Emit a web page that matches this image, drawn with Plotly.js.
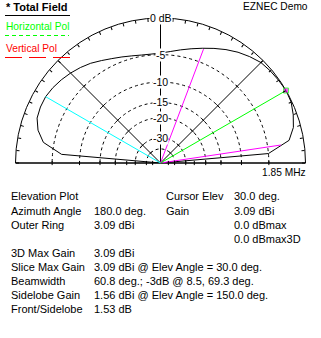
<!DOCTYPE html>
<html>
<head>
<meta charset="utf-8">
<script src="https://cdn.plot.ly/plotly-3.0.1.min.js"></script>
<style>
html,body{margin:0;padding:0;background:#fff;}
#chart{width:321px;height:338px;}
</style>
</head>
<body>
<div id="chart"></div>
<script>
// ---------- data ----------
const elevAngles = [0,5,10,15,20,25,30,35,40,45,50,55,60,65,70,75,80,85,90,
                    95,100,105,110,115,120,125,130,135,140,145,150,155,160,165,170,175,180];
// field relative to outer ring (dBmax); null = no signal (ground)
const patternDb = [null,-5.0,-1.8,-0.9,-0.45,-0.1,0,-0.1,-0.2,-0.35,-0.75,-1.2,-1.75,-2.35,-2.95,-3.5,-4.0,-4.45,-4.75,
                   -4.85,-4.8,-4.6,-4.3,-3.95,-3.5,-3.0,-2.6,-2.25,-1.95,-1.7,-1.53,-1.55,-1.7,-2.3,-3.4,-6.5,null];
const outerRingDbi = 3.09;
const cursorElev = 30.0;
const cursorGainDbi = 3.09;
const beamAngles = [8.5, 69.3];
const beamDb = -3;
const sidelobeElev = 150.0;
const sidelobeGainDbi = 1.56;

const ringDb = [-5,-10,-15,-20,-30,-40];
const ringLabelDb = [0,-5,-10,-15,-20,-30];
const ringLabelText = ['0 dB','-5','-10','-15','-20','-30'];
const baseTickDb = [-5,-10,-15,-20,-25,-30,-40,-50];
const spokeAngles = [0,45,90,135,180];
const outerTickAngles = [];
for (let a = 0; a <= 180; a += 5) outerTickAngles.push(a);

const infoLeft = [
  ['Elevation Plot',''],
  ['Azimuth Angle','180.0 deg.'],
  ['Outer Ring','3.09 dBi'],
  ['',''],
  ['3D Max Gain','3.09 dBi'],
  ['Slice Max Gain','3.09 dBi @ Elev Angle = 30.0 deg.'],
  ['Beamwidth','60.8 deg.; -3dB @ 8.5, 69.3 deg.'],
  ['Sidelobe Gain','1.56 dBi @ Elev Angle = 150.0 deg.'],
  ['Front/Sidelobe','1.53 dB']
];
const infoRight = [
  ['Cursor Elev','30.0 deg.'],
  ['Gain','3.09 dBi'],
  ['','0.0 dBmax'],
  ['','0.0 dBmax3D']
];
const rowY = [196,210.5,224.5,238.5,253,267,281,295,309];

// ---------- ARRL log-periodic radial scale ----------
function scaleR(db){ return (db === null || db < -90) ? 0 : Math.pow(0.89, -db/2); }

const FONT = 'Liberation Sans, Arial, sans-serif';
const W = 321, H = 338;
const px = x => x / W;
const py = y => 1 - y / H;
// polar plot geometry (paper pixels)
const CX = 160.5, CY = 163, RAD = 145;

const traces = [];

// ticks across the 45 / 135 spokes
traces.push({
  type:'scatterpolar', subplot:'polar', mode:'markers',
  theta: ringDb.map(()=>45).concat(ringDb.map(()=>135)),
  r: ringDb.map(scaleR).concat(ringDb.map(scaleR)),
  marker:{symbol: ringDb.map(()=>'line-nw').concat(ringDb.map(()=>'line-ne')),
          size:3, line:{color:'#000', width:1}},
  hoverinfo:'skip', showlegend:false
});

// pattern
traces.push({
  type:'scatterpolar', subplot:'polar', mode:'lines',
  theta: elevAngles, r: patternDb.map(scaleR),
  line:{color:'#000', width:1}, hoverinfo:'skip', showlegend:false
});

// beamwidth markers
beamAngles.forEach(a => traces.push({
  type:'scatterpolar', subplot:'polar', mode:'lines',
  theta:[a,a], r:[0, scaleR(beamDb)],
  line:{color:'#ff00ff', width:1}, hoverinfo:'skip', showlegend:false
}));

// sidelobe
traces.push({
  type:'scatterpolar', subplot:'polar', mode:'lines',
  theta:[sidelobeElev, sidelobeElev], r:[0, scaleR(sidelobeGainDbi - outerRingDbi)],
  line:{color:'#00ffff', width:1}, hoverinfo:'skip', showlegend:false
});

// cursor
traces.push({
  type:'scatterpolar', subplot:'polar', mode:'lines+markers',
  theta:[cursorElev, cursorElev], r:[0, scaleR(cursorGainDbi - outerRingDbi)],
  line:{color:'#00ff00', width:1},
  marker:{symbol:'square', size:[0,5], color:'#ff00ff', line:{color:'#00ff00', width:1}},
  cliponaxis:false, hoverinfo:'skip', showlegend:false
});

// baseline ticks (both sides)
traces.push({
  type:'scatterpolar', subplot:'polar2', mode:'markers',
  theta: baseTickDb.map(()=>0).concat(baseTickDb.map(()=>180)),
  r: baseTickDb.map(scaleR).concat(baseTickDb.map(scaleR)),
  marker:{symbol:'line-ns', size:3, line:{color:'#000', width:1}},
  cliponaxis:false, hoverinfo:'skip', showlegend:false
});

const domain = {x:[px(CX-RAD), px(CX+RAD)], y:[py(CY), py(CY-RAD)]};

const annotations = [];
function txt(x, y, s, opts){
  annotations.push(Object.assign({
    xref:'paper', yref:'paper', x:px(x), y:py(y), text:s, showarrow:false,
    xanchor:'left', yanchor:'middle',
    font:{family:FONT, size:11, color:'#000'}
  }, opts||{}));
}
// ring labels along the vertical spoke, on a white backing
ringLabelDb.forEach((db,i)=>{
  txt(CX, CY - RAD*scaleR(db), ringLabelText[i], {
    xanchor:'center', bgcolor:'#fff', borderpad:0,
    font:{family:FONT, size:10.5, color:'#000'}
  });
});
txt(4, 7, '<b>* Total Field</b>', {font:{family:FONT, size:11, color:'#000'}});
txt(4, 27, 'Horizontal Pol', {font:{family:FONT, size:10.2, color:'#00ff00'}});
txt(4, 48, 'Vertical Pol', {font:{family:FONT, size:10.2, color:'#ff0000'}});
txt(310, 7, 'EZNEC Demo', {xanchor:'right', font:{family:FONT, size:10.2, color:'#000'}});
txt(308, 172, '1.85 MHz', {xanchor:'right', font:{family:FONT, size:10.2, color:'#000'}});
infoLeft.forEach((row,i)=>{
  if (row[0]) txt(9, rowY[i], row[0]);
  if (row[1]) txt(92, rowY[i], row[1]);
});
infoRight.forEach((row,i)=>{
  if (row[0]) txt(164, rowY[i], row[0]);
  if (row[1]) txt(232, rowY[i], row[1]);
});

const shapes = [
  {type:'line', xref:'paper', yref:'paper', x0:px(5), x1:px(70), y0:py(15.5), y1:py(15.5),
   line:{color:'#000', width:1}},
  {type:'line', xref:'paper', yref:'paper', x0:px(5), x1:px(69), y0:py(35.5), y1:py(35.5),
   line:{color:'#00ff00', width:1, dash:'4px,3px'}},
  {type:'line', xref:'paper', yref:'paper', x0:px(5), x1:px(70), y0:py(57.5), y1:py(57.5),
   line:{color:'#ff0000', width:1, dash:'17px,7px'}}
];

const layout = {
  width:W, height:H, margin:{l:0,r:0,t:0,b:0},
  paper_bgcolor:'#fff', showlegend:false,
  polar:{
    domain: domain, sector:[0,180], bgcolor:'#fff', hole:0,
    angularaxis:{rotation:0, direction:'counterclockwise', tickmode:'array', tickvals:spokeAngles,
      showticklabels:false, ticks:'', showgrid:true, gridcolor:'#000', gridwidth:1,
      showline:true, linecolor:'#000', linewidth:1, layer:'below traces'},
    radialaxis:{range:[0,1], tickmode:'array', tickvals: ringDb.map(scaleR), showticklabels:false,
      ticks:'', showline:false, showgrid:true, gridcolor:'#000', gridwidth:1, griddash:'3px,3px',
      layer:'below traces'}
  },
  polar2:{
    domain: domain, sector:[0,180], bgcolor:'rgba(0,0,0,0)',
    angularaxis:{rotation:0, direction:'counterclockwise', tickmode:'array', tickvals:outerTickAngles,
      showticklabels:false, ticks:'inside', ticklen:3, tickcolor:'#000', tickwidth:1,
      showgrid:false, showline:false},
    radialaxis:{range:[0,1], visible:false, showgrid:false, showline:false, showticklabels:false, ticks:''}
  },
  annotations: annotations,
  shapes: shapes
};

Plotly.newPlot('chart', traces, layout, {staticPlot:true, displayModeBar:false});
</script>
</body>
</html>
